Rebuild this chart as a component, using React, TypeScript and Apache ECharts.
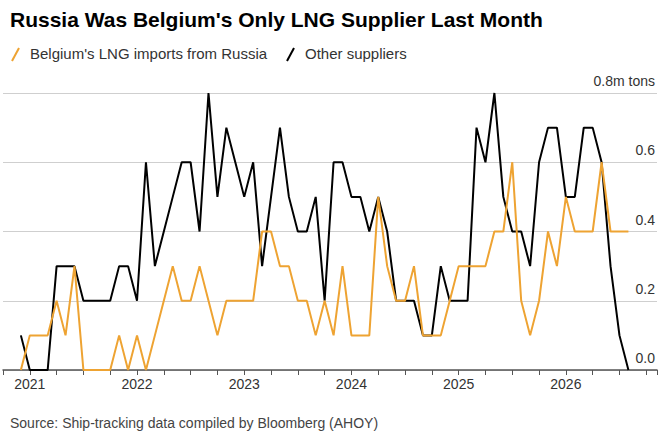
import React, { useEffect, useRef } from "react";
import * as echarts from "echarts";

// monthly, Dec 2020 .. Aug 2026 (index 0 = Dec 2020)
const russia = [0, 0.1, 0.1, 0.1, 0.2, 0.1, 0.3, 0, 0, 0, 0, 0.1, 0,
  0.1, 0, 0.1, 0.2, 0.3, 0.2, 0.2, 0.3, 0.2, 0.1, 0.2, 0.2,
  0.2, 0.2, 0.4, 0.4, 0.3, 0.3, 0.2, 0.2, 0.1, 0.2, 0.1, 0.3,
  0.1, 0.1, 0.1, 0.5, 0.3, 0.2, 0.2, 0.3, 0.1, 0.1, 0.1, 0.2,
  0.3, 0.3, 0.3, 0.3, 0.4, 0.4, 0.6, 0.2, 0.1, 0.2, 0.4, 0.3,
  0.5, 0.4, 0.4, 0.4, 0.6, 0.4, 0.4, 0.4];
const others = [0.1, 0, 0, 0, 0.3, 0.3, 0.3, 0.2, 0.2, 0.2, 0.2, 0.3, 0.3,
  0.2, 0.6, 0.3, 0.4, 0.5, 0.6, 0.6, 0.4, 0.8, 0.5, 0.7, 0.6,
  0.5, 0.6, 0.3, 0.5, 0.7, 0.5, 0.4, 0.4, 0.5, 0.2, 0.6, 0.6,
  0.5, 0.5, 0.4, 0.5, 0.4, 0.2, 0.2, 0.2, 0.1, 0.1, 0.3, 0.2,
  0.2, 0.2, 0.7, 0.6, 0.8, 0.5, 0.4, 0.4, 0.3, 0.6, 0.7, 0.7,
  0.5, 0.5, 0.7, 0.7, 0.6, 0.3, 0.1, 0];
const firstYear = 2021;
const yTicks = ["0.0", "0.2", "0.4", "0.6", "0.8m tons"];

const ORANGE = "#eea332";
const FONT = "Liberation Sans, Arial, sans-serif";

export default function App() {
  const ref = useRef<HTMLDivElement>(null);
  useEffect(() => {
    const chart = echarts.init(ref.current!, null, { renderer: "svg" });
    chart.setOption({
      animation: false,
      grid: { left: 0, right: 13, top: 93, bottom: 76 },
      xAxis: {
        type: "value", min: -2, max: 71.2, interval: 3,
        axisLine: { lineStyle: { color: "#555", width: 1.5 } },
        axisTick: { show: true, length: 5, lineStyle: { color: "#555" } },
        splitLine: { show: false },
        axisLabel: {
          fontFamily: FONT, fontSize: 14, color: "#333", margin: 7,
          formatter: (v: number) => ((v - 1) % 12 === 0 ? String(firstYear + (v - 1) / 12) : ""),
        },
      },
      yAxis: {
        type: "value", position: "right", min: 0, max: 0.8, interval: 0.2,
        axisLine: { show: false }, axisTick: { show: false },
        splitLine: { lineStyle: { color: "#cfcfcf" } },
        axisLabel: {
          inside: true, fontFamily: FONT, fontSize: 14, color: "#333",
          verticalAlign: "bottom", padding: [0, 0, 5, 0], margin: 2,
          formatter: (v: number) => yTicks[Math.round(v * 5)],
        },
      },
      series: [
        { type: "line", data: others.map((v, i) => [i, v]), symbol: "none", lineStyle: { color: "#000", width: 2 } },
        { type: "line", data: russia.map((v, i) => [i, v]), symbol: "none", lineStyle: { color: ORANGE, width: 2 } },
      ],
      graphic: [
        { type: "text", left: 10, top: 9, style: { text: "Russia Was Belgium's Only LNG Supplier Last Month", font: `bold 21px ${FONT}`, fill: "#000" } },
        { type: "line", shape: { x1: 12, y1: 61, x2: 19, y2: 48 }, style: { stroke: ORANGE, lineWidth: 2 } },
        { type: "text", left: 30, top: 46, style: { text: "Belgium's LNG imports from Russia", font: `15px ${FONT}`, fill: "#333" } },
        { type: "line", shape: { x1: 287, y1: 61, x2: 294, y2: 48 }, style: { stroke: "#000", lineWidth: 2 } },
        { type: "text", left: 305, top: 46, style: { text: "Other suppliers", font: `15px ${FONT}`, fill: "#333" } },
        { type: "text", left: 10, top: 416, style: { text: "Source: Ship-tracking data compiled by Bloomberg (AHOY)", font: `14px ${FONT}`, fill: "#444" } },
      ],
    });
    return () => chart.dispose();
  }, []);
  return <div ref={ref} style={{ position: "absolute", left: 0, top: 0, width: 670, height: 446, background: "#fff" }} />;
}
